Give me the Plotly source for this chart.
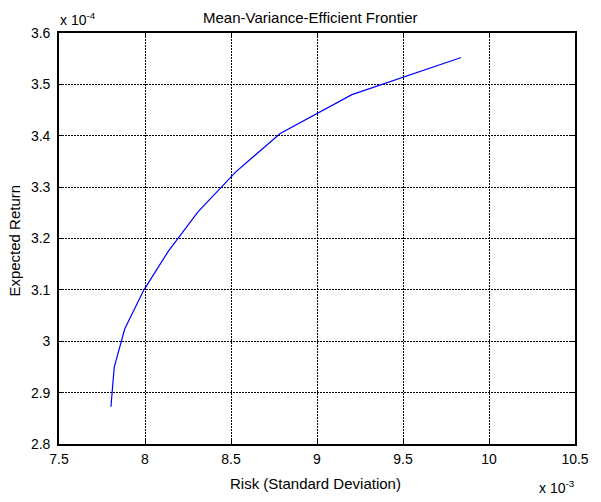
import plotly.graph_objects as go

# Frontier points (risk = std dev, expected return)
risk = [0.007802, 0.007821, 0.007882, 0.007993, 0.008136, 0.008308,
        0.008528, 0.008786, 0.009203, 0.009838]
ret = [0.00028726, 0.0002949, 0.00030237, 0.00030996, 0.00031755,
       0.0003252, 0.00033298, 0.00034045, 0.000348, 0.00035523]

x_ticks = [0.0075, 0.008, 0.0085, 0.009, 0.0095, 0.010, 0.0105]
x_labels = ["7.5", "8", "8.5", "9", "9.5", "10", "10.5"]
y_ticks = [0.00028, 0.00029, 0.00030, 0.00031, 0.00032, 0.00033,
           0.00034, 0.00035, 0.00036]
y_labels = ["2.8", "2.9", "3", "3.1", "3.2", "3.3", "3.4", "3.5", "3.6"]

FONT = "Liberation Sans, Arial, sans-serif"
W, H = 601, 502
L, R, T, B = 59, 582, 33, 444   # plot area in pixels


def px(x):
    return (x - L) / (R - L)


def py(y):
    return (B - y) / (B - T)


fig = go.Figure()
fig.add_trace(go.Scatter(x=risk, y=ret, mode="lines",
                         line=dict(color="#0000ff", width=1.2),
                         showlegend=False, hoverinfo="skip"))

axis_common = dict(showline=True, linecolor="black", linewidth=1.6,
                   mirror="ticks", ticks="inside", ticklen=5, tickwidth=1,
                   tickcolor="black", showgrid=True, gridcolor="black",
                   griddash="2px,1px", gridwidth=1, zeroline=False,
                   tickfont=dict(family=FONT, size=14, color="black"))

fig.update_xaxes(range=[0.0075, 0.0105], tickvals=x_ticks, ticktext=x_labels,
                 ticklabelstandoff=1, **axis_common)
fig.update_yaxes(range=[0.00028, 0.00036], tickvals=y_ticks, ticktext=y_labels,
                 ticklabelstandoff=4, **axis_common)

fig.update_layout(
    width=W, height=H,
    margin=dict(l=L, r=W - R, t=T, b=H - B),
    paper_bgcolor="white", plot_bgcolor="white",
    annotations=[
        dict(text="Mean-Variance-Efficient Frontier", xref="paper", yref="paper",
             x=px(314), y=py(18), xanchor="center", yanchor="middle",
             showarrow=False, font=dict(family=FONT, size=15, color="black")),
        dict(text="Risk (Standard Deviation)", xref="paper", yref="paper",
             x=px(319), y=py(483), xanchor="center", yanchor="middle",
             showarrow=False, font=dict(family=FONT, size=15, color="black")),
        dict(text="Expected Return", xref="paper", yref="paper",
             x=px(13), y=py(241), xanchor="center", yanchor="middle",
             textangle=-90, showarrow=False,
             font=dict(family=FONT, size=15, color="black")),
        dict(text="x 10<sup>-4</sup>", xref="paper", yref="paper",
             x=px(58), y=py(19), xanchor="left", yanchor="middle",
             showarrow=False, font=dict(family=FONT, size=14, color="black")),
        dict(text="x 10<sup>-3</sup>", xref="paper", yref="paper",
             x=px(584), y=py(487), xanchor="right", yanchor="middle",
             showarrow=False, font=dict(family=FONT, size=14, color="black")),
    ],
)

fig.write_html("out.html")
